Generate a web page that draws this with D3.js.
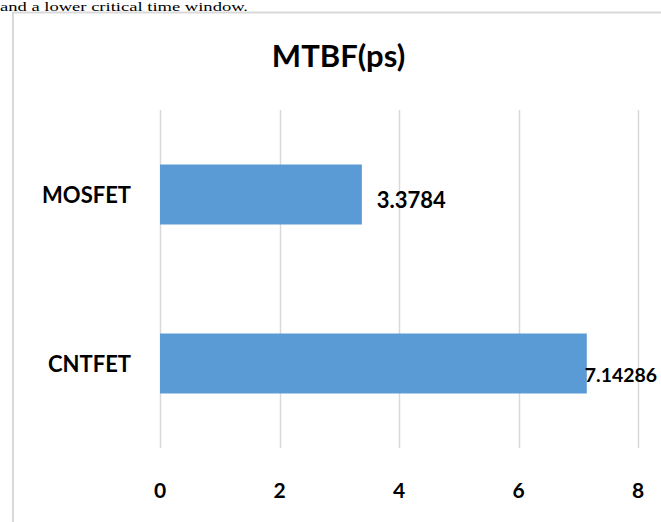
<!DOCTYPE html>
<html>
<head>
<meta charset="utf-8">
<script src="https://cdn.jsdelivr.net/npm/d3@7"></script>
<style>
  html, body { margin: 0; padding: 0; background: #fff; overflow: hidden; }
  svg { display: block; }
</style>
</head>
<body>
<script>
// MTBF values per device type
const categories = ["MOSFET", "CNTFET"];
const mtbfValues = [3.3784, 7.14286];
const valueLabels = ["3.3784", "7.14286"];
const xTicks = [0, 2, 4, 6, 8];
const chartTitle = "MTBF(ps)";
const leadText = "and a lower critical time window.";

const W = 661, H = 522;
const font = "Lato, 'Open Sans', sans-serif";

const svg = d3.select("body").append("svg")
  .attr("width", W).attr("height", H);

// Tail of the paragraph above the chart
svg.append("text")
  .attr("x", 0).attr("y", 11)
  .attr("font-family", "'Liberation Serif', 'Times New Roman', serif")
  .attr("font-size", 13)
  .attr("textLength", 248)
  .attr("lengthAdjust", "spacingAndGlyphs")
  .attr("fill", "#000")
  .text(leadText);

// Chart area frame
svg.append("path")
  .attr("d", `M13,${H} V12.5 H${W}`)
  .attr("fill", "none")
  .attr("stroke", "#d9d9d9")
  .attr("stroke-width", 2);

const x = d3.scaleLinear().domain([0, 8]).range([160, 638]);
const y = d3.scaleBand().domain(categories).range([110, 448])
  .paddingInner(0.645).paddingOuter(0.3225);

// Vertical gridlines
svg.append("g")
  .selectAll("line")
  .data(xTicks)
  .join("line")
  .attr("x1", d => Math.round(x(d)) + 0.5)
  .attr("x2", d => Math.round(x(d)) + 0.5)
  .attr("y1", 110).attr("y2", 448)
  .attr("stroke", "#d9d9d9")
  .attr("stroke-width", 1.5);

// Bars
svg.append("g")
  .selectAll("rect")
  .data(categories)
  .join("rect")
  .attr("x", x(0))
  .attr("y", d => y(d))
  .attr("width", (d, i) => x(mtbfValues[i]) - x(0))
  .attr("height", y.bandwidth())
  .attr("fill", "#5b9bd5");

// Category axis labels
svg.append("g")
  .selectAll("text")
  .data(categories)
  .join("text")
  .attr("x", 131)
  .attr("y", d => y(d) + y.bandwidth() / 2 + 8)
  .attr("text-anchor", "end")
  .attr("font-family", font)
  .attr("font-weight", "bold")
  .attr("font-size", 22)
  .attr("fill", "#000")
  .text(d => d);

// Value axis tick labels
svg.append("g")
  .selectAll("text")
  .data(xTicks)
  .join("text")
  .attr("x", d => x(d))
  .attr("y", 498)
  .attr("text-anchor", "middle")
  .attr("font-family", font)
  .attr("font-weight", "bold")
  .attr("font-size", 21)
  .attr("fill", "#000")
  .text(d => d);

// Data labels at the bar ends; a label that would run past the chart's edge
// is shrunk and pulled back to end inside it
const labelRight = W - 4;
const labelG = svg.append("g");
categories.forEach((c, i) => {
  let size = 22;
  const t = labelG.append("text")
    .attr("font-family", font)
    .attr("font-weight", "bold")
    .attr("font-size", size)
    .attr("fill", "#000")
    .text(valueLabels[i]);
  let w = t.node().getComputedTextLength();
  let lx = x(mtbfValues[i]) + 15;
  let ly = y(c) + y.bandwidth() / 2 + 13.5;
  if (lx + w > labelRight) {
    lx = Math.max(labelRight - w, x(mtbfValues[i]) - 2);
    size = size * (labelRight - lx) / w;
    t.attr("font-size", size);
    ly += 5;
  }
  t.attr("x", lx).attr("y", ly);
});

// Title
svg.append("text")
  .attr("x", 338.5).attr("y", 67)
  .attr("text-anchor", "middle")
  .attr("font-family", font)
  .attr("font-weight", "bold")
  .attr("font-size", 31)
  .attr("fill", "#000")
  .text(chartTitle);
</script>
</body>
</html>
